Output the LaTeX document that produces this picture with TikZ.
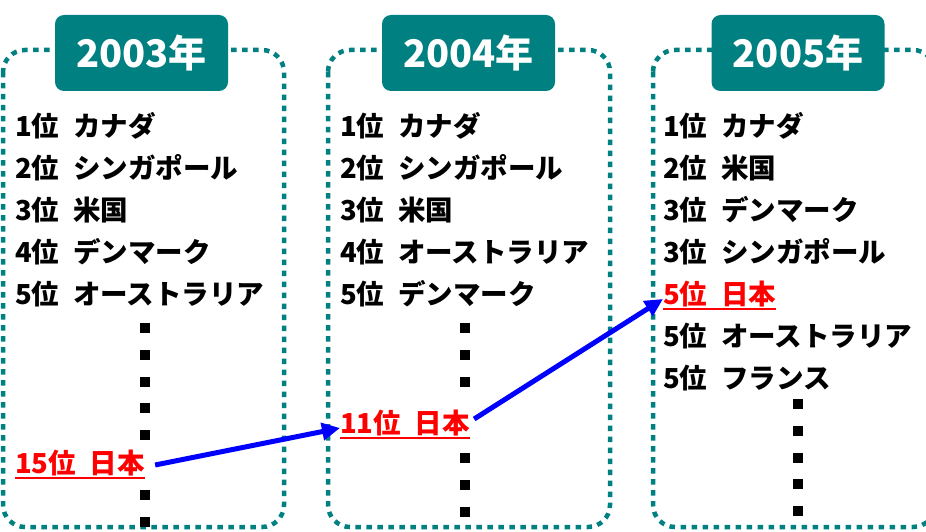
\documentclass[tikz,border=0pt]{standalone}
\usepackage{fontspec}
\setmainfont{Noto Sans CJK JP}
\usetikzlibrary{arrows.meta}
\definecolor{teal1}{HTML}{008080}
\definecolor{blue1}{HTML}{0000FF}
\definecolor{red1}{HTML}{FF0000}
\newcommand{\gapx}{\hspace{0.5em}}
\begin{document}
\begin{tikzpicture}[x=1pt,y=-1pt,
 dotbox/.style={draw=teal1, line width=4.5pt, dash pattern=on 5.5pt off 5.5pt, rounded corners=22pt},
 yearbox/.style={fill=teal1, rounded corners=9pt, minimum width=173pt, minimum height=76pt, text=white, font=\bfseries\fontsize{38}{38}\selectfont, inner sep=0pt},
 item/.style={anchor=west, inner sep=0pt, font=\bfseries\fontsize{27.5}{27.5}\selectfont},
 japan/.style={item, text=red1},
 uline/.style={draw=red1, line width=2.2pt},
 sq/.style={fill=black, minimum size=10pt, inner sep=0pt},
 arr/.style={draw=blue1, line width=5pt, -{Triangle[length=18pt,width=17pt]}}]
\useasboundingbox (0,0) rectangle (926,532);
\clip (0,0) rectangle (926,532);
% frames
\draw[dotbox] (3,50) rectangle (284,527);
\draw[dotbox] (328,50) rectangle (610,527);
\draw[dotbox] (653,50) rectangle (935,527);
% year titles
\node[yearbox] (y1) at (141.5,53) {2003年};
\node[yearbox] (y2) at (468.5,53) {2004年};
\node[yearbox] (y3) at (798,53) {2005年};
% 2003
\node[item] (a1) at (15,126) {1位\gapx カナダ};
\node[item] (a2) at (15,168) {2位\gapx シンガポール};
\node[item] (a3) at (15,210) {3位\gapx 米国};
\node[item] (a4) at (15,252) {4位\gapx デンマーク};
\node[item] (a5) at (15,294) {5位\gapx オーストラリア};
\node[japan] (j1) at (15,463) {15位\gapx 日本};
\draw[uline] ([yshift=-2pt]j1.south west) -- ([yshift=-2pt]j1.south east);
\foreach \i/\y in {1/328,2/355,3/382,4/408,5/435,6/495,7/522}
  \node[sq] (da\i) at (145,\y) {};
% 2004
\node[item] (b1) at (340,126) {1位\gapx カナダ};
\node[item] (b2) at (340,168) {2位\gapx シンガポール};
\node[item] (b3) at (340,210) {3位\gapx 米国};
\node[item] (b4) at (340,252) {4位\gapx オーストラリア};
\node[item] (b5) at (340,294) {5位\gapx デンマーク};
\node[japan] (j2) at (340,423) {11位\gapx 日本};
\draw[uline] ([yshift=-2pt]j2.south west) -- ([yshift=-2pt]j2.south east);
\foreach \i/\y in {1/328,2/355,3/382,4/458,5/485,6/512}
  \node[sq] (db\i) at (465,\y) {};
% 2005
\node[item] (c1) at (663,126) {1位\gapx カナダ};
\node[item] (c2) at (663,168) {2位\gapx 米国};
\node[item] (c3) at (663,210) {3位\gapx デンマーク};
\node[item] (c4) at (663,252) {3位\gapx シンガポール};
\node[japan] (j3) at (663,294) {5位\gapx 日本};
\draw[uline] ([yshift=-2pt]j3.south west) -- ([yshift=-2pt]j3.south east);
\node[item] (c6) at (663,336) {5位\gapx オーストラリア};
\node[item] (c7) at (663,378) {5位\gapx フランス};
\foreach \i/\y in {1/404,2/431,3/458,4/484,5/511}
  \node[sq] (dc\i) at (798,\y) {};
% arrows
\draw[arr] ([xshift=10pt,yshift=-2pt]j1.east) -- ([yshift=-5pt]j2.west);
\draw[arr] ([xshift=4pt,yshift=4pt]j2.east) -- ([yshift=-5pt]j3.west);
\end{tikzpicture}
\end{document}
